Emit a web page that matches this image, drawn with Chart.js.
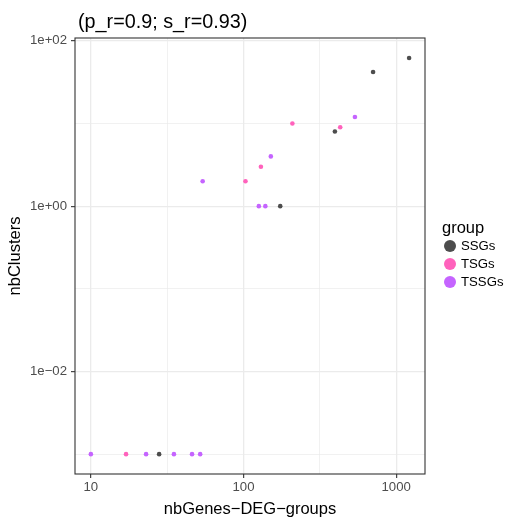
<!DOCTYPE html>
<html>
<head>
<meta charset="utf-8">
<script src="https://cdn.jsdelivr.net/npm/chart.js@4.4.1/dist/chart.umd.min.js"></script>
<style>
  body { margin: 0; background: #ffffff; }
  #chart { display: block; }
</style>
</head>
<body>
<canvas id="chart" width="508" height="524"></canvas>
<script>
// Datos del grafico
const groups = ["SSGs", "TSGs", "TSSGs"];
const groupColors = ["#4D4D4D", "#FF62BC", "#C564FF"];

const ssgGenes = [1216, 706, 397, 174, 28];
const ssgClusters = [62, 42, 8, 1, 0.001];

const tsgGenes = [430, 209, 130, 103, 17];
const tsgClusters = [9, 10, 3, 2, 0.001];

const tssgGenes = [537, 151, 54, 126, 139, 10, 23, 35, 46, 52];
const tssgClusters = [12, 4, 2, 1, 1, 0.001, 0.001, 0.001, 0.001, 0.001];

const xTicks = [10, 100, 1000];
const xTickLabels = ["10", "100", "1000"];
const yTicks = [0.01, 1, 100];
const yTickLabels = ["1e\u221202", "1e+00", "1e+02"];

const titleText = "(p_r=0.9; s_r=0.93)";
const xTitle = "nbGenes\u2212DEG\u2212groups";
const yTitle = "nbClusters";
const legendTitle = "group";

const FONT = "'Liberation Sans', Arial, Helvetica, sans-serif";

// Cortes menores: punto medio (en escala log) entre cortes mayores, como ggplot
function withMinor(major) {
    const all = [];
    const first = major[0] * major[0] / major[1];
    const last = major[major.length - 1] * major[major.length - 1] / major[major.length - 2];
    const ext = [first].concat(major, [last]);
    for (let i = 0; i < ext.length - 1; i++) {
        if (i > 0) all.push(ext[i]);
        all.push(Math.sqrt(ext[i] * ext[i + 1]));
    }
    return all;
}

function toPoints(xs, ys) {
    return xs.map((x, i) => ({ x: x, y: ys[i] }));
}

const seriesX = [ssgGenes, tsgGenes, tssgGenes];
const seriesY = [ssgClusters, tsgClusters, tssgClusters];

const datasets = groups.map((g, i) => ({
    label: g,
    data: toPoints(seriesX[i], seriesY[i]),
    backgroundColor: groupColors[i],
    borderWidth: 0,
    pointRadius: 2.3,
    pointHoverRadius: 2.3
}));

function makeScale(major, labels, min, max) {
    const all = withMinor(major).filter(v => v >= min && v <= max);
    const isMajor = v => major.indexOf(v) >= 0;
    return {
        type: "logarithmic",
        min: min,
        max: max,
        afterBuildTicks: (scale) => {
            scale.ticks = all.map(v => ({ value: v, major: isMajor(v) }));
        },
        grid: {
            color: "#EBEBEB",
            lineWidth: (c) => (c.tick && isMajor(c.tick.value)) ? 1.3 : 0.7,
            drawTicks: true,
            tickLength: 4,
            tickWidth: 1.1,
            tickColor: (c) => (c.tick && isMajor(c.tick.value)) ? "#333333" : "rgba(0,0,0,0)"
        },
        border: { display: false },
        ticks: {
            autoSkip: false,
            maxRotation: 0,
            minRotation: 0,
            color: "#4D4D4D",
            font: { family: FONT, size: 13.2 },
            callback: (v) => {
                const i = major.indexOf(v);
                return i >= 0 ? labels[i] : "";
            }
        }
    };
}

const xScale = makeScale(xTicks, xTickLabels, Math.pow(10, 0.896), Math.pow(10, 3.189));
xScale.ticks.padding = 1;
xScale.title = { display: true, text: xTitle, color: "#000000", font: { family: FONT, size: 16.5 }, padding: { top: 0, bottom: 5 } };
xScale.afterFit = (scale) => { scale.height = 50; };

const yScale = makeScale(yTicks, yTickLabels, Math.pow(10, -3.24), Math.pow(10, 2.034));
yScale.ticks.padding = 4;
yScale.title = { display: true, text: yTitle, color: "#000000", font: { family: FONT, size: 16.5 }, padding: { top: 6, bottom: 0 } };
yScale.afterFit = (scale) => { scale.width = 75; };

// Marco del panel, titulo y leyenda
const decorPlugin = {
    id: "decor",
    afterDatasetsDraw(chart) {
        const ctx = chart.ctx;
        const a = chart.chartArea;
        ctx.save();
        ctx.strokeStyle = "#333333";
        ctx.lineWidth = 1.1;
        ctx.strokeRect(a.left, a.top, a.right - a.left, a.bottom - a.top);
        ctx.restore();
    },
    afterDraw(chart) {
        const ctx = chart.ctx;
        const a = chart.chartArea;
        ctx.save();
        ctx.fillStyle = "#000000";
        ctx.textAlign = "left";
        ctx.textBaseline = "alphabetic";
        ctx.font = "19.8px " + FONT;
        ctx.fillText(titleText, a.left + 3, 27.5);

        // leyenda
        const lx = a.right + 17;
        ctx.font = "16.5px " + FONT;
        ctx.textBaseline = "middle";
        ctx.fillText(legendTitle, lx, 228);
        ctx.font = "13.2px " + FONT;
        chart.data.datasets.forEach((ds, i) => {
            const cy = 246 + i * 18;
            ctx.fillStyle = ds.backgroundColor;
            ctx.beginPath();
            ctx.arc(lx + 8, cy, 6, 0, Math.PI * 2);
            ctx.fill();
            ctx.fillStyle = "#000000";
            ctx.fillText(ds.label, lx + 19, cy + 0.5);
        });
        ctx.restore();
    }
};

new Chart(document.getElementById("chart"), {
    type: "scatter",
    data: { datasets: datasets },
    options: {
        responsive: false,
        animation: false,
        layout: { padding: { top: 38, right: 83, bottom: 0, left: 0 } },
        plugins: {
            legend: { display: false },
            title: { display: false },
            tooltip: { enabled: false }
        },
        scales: { x: xScale, y: yScale }
    },
    plugins: [decorPlugin]
});
</script>
</body>
</html>
